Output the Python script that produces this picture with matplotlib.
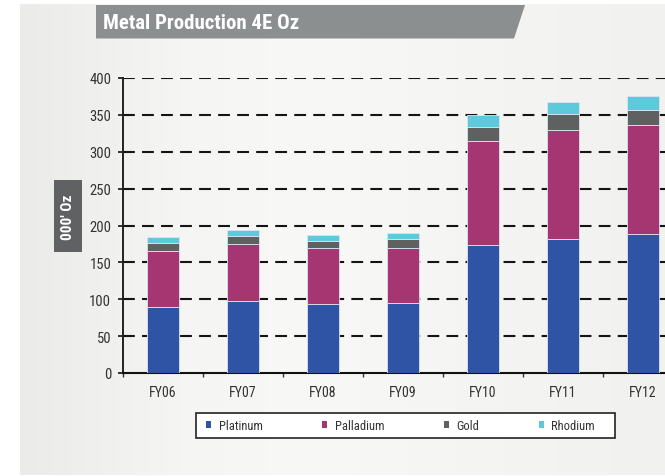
import numpy as np
import matplotlib
matplotlib.use("Agg")
import matplotlib.pyplot as plt
from matplotlib.patches import Polygon, Rectangle, Patch
from matplotlib.colors import LinearSegmentedColormap

plt.rcParams['lines.scale_dashes'] = False

categories = ["FY06", "FY07", "FY08", "FY09", "FY10", "FY11", "FY12"]
platinum = [90, 97, 93, 95, 174, 182, 188]
palladium = [76, 78, 77, 75, 141, 148, 148]
gold = [10, 11, 9, 12, 19, 21, 21]
rhodium = [8, 8, 8, 8, 16, 16, 18]
series_names = ["Platinum", "Palladium", "Gold", "Rhodium"]
yticks = [0, 50, 100, 150, 200, 250, 300, 350, 400]
title = "Metal Production 4E Oz"
ylabel = "000' Oz"

colors = ["#2f54a5", "#a63671", "#5f6161", "#5fc9dc"]
FONT = ['Roboto Condensed', 'Liberation Sans', 'DejaVu Sans']

W, H = 665, 477
fig = plt.figure(figsize=(W / 100, H / 100), dpi=100)
fig.patch.set_facecolor("white")

def fx(px):
    return px / W

def fy(py):
    return 1 - py / H

# background panel with horizontal gradient
bg = fig.add_axes([fx(20), fy(476), fx(645), (476 - 5) / H])
cmap = LinearSegmentedColormap.from_list(
    "bg", [(0, "#ebebea"), (0.25, "#f5f5f4"), (0.45, "#f8f8f7"), (0.75, "#f4f4f3"), (1, "#f1f1ef")])
bg.imshow(np.linspace(0, 1, 256)[None, :], aspect="auto", cmap=cmap,
          extent=[0, 1, 0, 1], interpolation="bicubic")
bg.set_axis_off()

# title banner
banner = Polygon([[fx(96), fy(6)], [fx(525), fy(6)], [fx(514), fy(39.5)], [fx(96), fy(39.5)]],
                 closed=True, transform=fig.transFigure, facecolor="#8c8f8f", edgecolor="none")
fig.patches.append(banner)
fig.text(fx(103), fy(23.5), title, color="white", fontsize=15, fontweight="bold",
         family=FONT, ha="left", va="center")

# main axes
left, right, top, bottom = 123, 683, 79, 374
ax = fig.add_axes([fx(left), fy(bottom), (right - left) / W, (bottom - top) / H])
ax.set_facecolor("none")
x = np.arange(len(categories))
width = 0.4
base = np.zeros(len(categories))
for vals, c, name in zip([platinum, palladium, gold, rhodium], colors, series_names):
    ax.bar(x, vals, width, bottom=base, color=c, edgecolor="#dde3f0", linewidth=0.6,
           label=name, zorder=3)
    base = base + np.array(vals)

ax.set_xlim(-0.5, len(categories) - 0.5)
ax.set_ylim(0, 400)
ax.set_yticks(yticks)
ax.set_yticklabels([str(v) for v in yticks])
for yv in yticks[1:]:
    ax.axhline(yv, color="#141414", linewidth=1.5, dashes=(8.5, 5.2), zorder=1)

ax.set_xticks(x)
ax.set_xticklabels(categories)
ax.set_xticks(np.arange(len(categories) + 1) - 0.5, minor=True)
ax.tick_params(axis="x", which="major", length=0, pad=8.5, labelsize=10, labelcolor="#333333")
ax.tick_params(axis="x", which="minor", length=3, width=1, color="#333333", direction="out")
ax.tick_params(axis="y", length=3.5, width=1.3, color="#222222", direction="out", pad=5,
               labelsize=10.5, labelcolor="#333333")
for lab in ax.get_xticklabels() + ax.get_yticklabels():
    lab.set_family(FONT)

for s in ["top", "right"]:
    ax.spines[s].set_visible(False)
ax.spines["left"].set_linewidth(1.4)
ax.spines["bottom"].set_linewidth(1.5)
ax.spines["left"].set_color("#222222")
ax.spines["bottom"].set_color("#111111")

# y-label box
fig.patches.append(Rectangle((fx(54), fy(253)), (82 - 54) / W, (253 - 181) / H,
                             transform=fig.transFigure, facecolor="#5f6162", edgecolor="none"))
fig.text(fx(68.5), fy(217), ylabel, rotation=90, color="white", fontsize=11,
         fontweight="bold", family=FONT, ha="center", va="center")

# legend
fig.patches.append(Rectangle((fx(196), fy(439)), (615 - 196) / W, (439 - 414) / H,
                             transform=fig.transFigure, facecolor="white",
                             edgecolor="#222222", linewidth=1.2, zorder=2))
handles = [Patch(facecolor=c, edgecolor="none") for c in colors]
leg = fig.legend(handles, series_names, loc="center left", bbox_to_anchor=(fx(206), fy(426.5)),
                 ncol=4, frameon=False, borderpad=0, borderaxespad=0,
                 handlelength=0.42, handleheight=0.42, handletextpad=0.6, columnspacing=4.75,
                 prop={"family": FONT, "size": 9})
for t in leg.get_texts():
    t.set_color("#333333")
leg.set_zorder(5)

fig.savefig("out.png", dpi=100)
